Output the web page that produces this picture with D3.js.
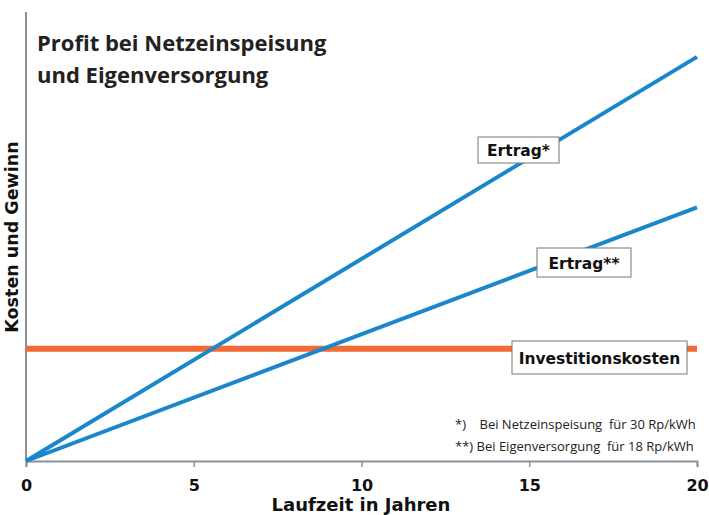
<!doctype html>
<html lang="de">
<head>
<meta charset="utf-8">
<title>Profit bei Netzeinspeisung und Eigenversorgung</title>
<script src="https://d3js.org/d3.v7.min.js"></script>
<style>
  body { margin: 0; background: #fff; }
  .lbl { font-family: "DejaVu Sans", Verdana, sans-serif; font-weight: bold; fill: #111; }
  .cal { font-family: "Open Sans", sans-serif; fill: #222; }
</style>
</head>
<body>
<svg id="chart" width="709" height="515"></svg>
<script>
// Werte
var jahre = [0, 20];
var ertragNetz = [0, 36];     // Ertrag* (30 Rp/kWh)
var ertragEigen = [0, 22.6];  // Ertrag** (18 Rp/kWh)
var investition = 10;
var xTicks = [0, 5, 10, 15, 20];

var svg = d3.select("#chart");
var x = d3.scaleLinear().domain([0, 20]).range([26, 697]);
var y = d3.scaleLinear().domain([0, 40]).range([461, 12]);

// Achsen
svg.append("line").attr("x1", 26).attr("x2", 26).attr("y1", 12).attr("y2", 461)
  .attr("stroke", "#8c9099").attr("stroke-width", 2);
var xAxis = svg.append("g").attr("transform", "translate(0,461)")
  .call(d3.axisBottom(x).tickValues(xTicks).tickSize(6).tickFormat(d3.format("d")));
xAxis.select(".domain").attr("stroke", "#8c9099").attr("stroke-width", 2);
xAxis.selectAll(".tick line").attr("stroke", "#8c9099").attr("stroke-width", 1.5);
xAxis.selectAll(".tick text").attr("class", "lbl").attr("font-size", 16).attr("dy", "1.3em");

var line = d3.line().x(function(d) { return x(d[0]); }).y(function(d) { return y(d[1]); });

// Investitionskosten
svg.append("path").datum([[0, investition], [20, investition]])
  .attr("d", line).attr("fill", "none").attr("stroke", "#f26a35").attr("stroke-width", 6);

// Ertragslinien
[ertragNetz, ertragEigen].forEach(function(s) {
  svg.append("path").datum(jahre.map(function(j, i) { return [j, s[i]]; }))
    .attr("d", line).attr("fill", "none").attr("stroke", "#1a86cc").attr("stroke-width", 4);
});

// Beschriftungskästen
function box(txt, bx, by, w, h) {
  svg.append("rect").attr("x", bx).attr("y", by).attr("width", w).attr("height", h)
    .attr("fill", "#fff").attr("stroke", "#777").attr("stroke-width", 1);
  svg.append("text").attr("class", "lbl").attr("font-size", 15.5)
    .attr("x", bx + w / 2).attr("y", by + h / 2 + 6).attr("text-anchor", "middle").text(txt);
}
box("Ertrag*", 478, 137, 81, 26);
box("Ertrag**", 537, 248, 94, 29);
box("Investitionskosten", 512, 341, 175, 33);

// Titel
svg.append("text").attr("class", "cal").attr("font-weight", "bold").attr("font-size", 22)
  .attr("fill", "#111").attr("x", 37).attr("y", 51).text("Profit bei Netzeinspeisung");
svg.append("text").attr("class", "cal").attr("font-weight", "bold").attr("font-size", 22)
  .attr("fill", "#111").attr("x", 37).attr("y", 83).text("und Eigenversorgung");

// Fußnoten
svg.append("text").attr("class", "cal").attr("font-size", 13).attr("x", 455).attr("y", 429)
  .attr("xml:space", "preserve").text("*)    Bei Netzeinspeisung  für 30 Rp/kWh");
svg.append("text").attr("class", "cal").attr("font-size", 13).attr("x", 455).attr("y", 451)
  .attr("xml:space", "preserve").text("**) Bei Eigenversorgung  für 18 Rp/kWh");

// Achsentitel
svg.append("text").attr("class", "lbl").attr("font-size", 18).attr("text-anchor", "middle")
  .attr("x", 361).attr("y", 511).text("Laufzeit in Jahren");
svg.append("text").attr("class", "lbl").attr("font-size", 17.5).attr("text-anchor", "middle")
  .attr("transform", "translate(18,237) rotate(-90)").text("Kosten und Gewinn");
</script>
</body>
</html>
